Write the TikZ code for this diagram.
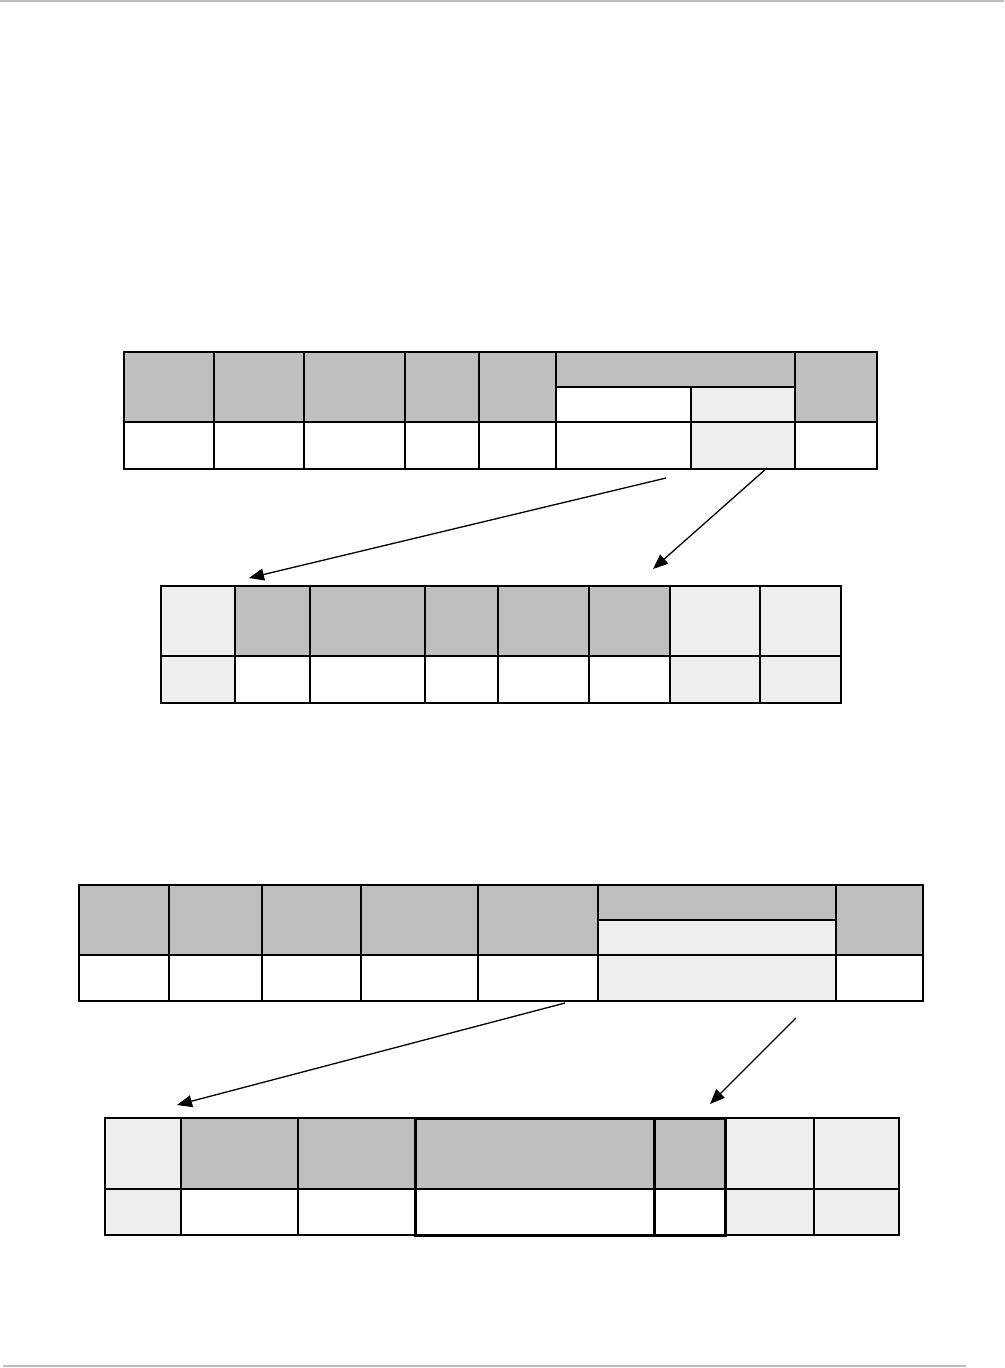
\documentclass[tikz,border=0pt]{standalone}
\usetikzlibrary{arrows.meta}
\definecolor{hdr}{HTML}{BFBFBF}
\definecolor{lite}{HTML}{EEEEEE}
\definecolor{rule}{HTML}{BDBDBD}
\tikzset{
  cell/.style={draw=black, line width=1.2pt, inner sep=0pt, outer sep=0pt, anchor=north west},
  frame/.style={draw=black, line width=2.2pt},
  frameThin/.style={draw=black, line width=1.6pt},
  frameBold/.style={draw=black, line width=3pt},
  link/.style={draw=black, line width=1.3pt, -{Triangle[length=15pt,width=12pt]}},
  pagerule/.style={draw=rule, line width=2pt}
}
\newcommand\cellbox[6]{%
  \node[cell, fill=#6, minimum width={#4-#2}, minimum height={#5-#3}] (#1) at (#2,#3) {};}
\begin{document}
\begin{tikzpicture}[x=1pt,y=-1pt]
\useasboundingbox (0,0) rectangle (1004,1368);
\fill[white] (0,0) rectangle (1004,1368);
% page rules
\coordinate (topL) at (0,1);
\coordinate (topR) at (1004,1);
\draw[pagerule] (topL) -- (topR);
\coordinate (botL) at (3,1366);
\coordinate (botR) at (966,1366);
\draw[pagerule, line width=1.5pt] (botL) -- (botR);

% ---------- Table 1 ----------
\cellbox{aH1}{124}{352}{214}{422}{hdr}
\cellbox{aH2}{214}{352}{304}{422}{hdr}
\cellbox{aH3}{304}{352}{405}{422}{hdr}
\cellbox{aH4}{405}{352}{479}{422}{hdr}
\cellbox{aH5}{479}{352}{556}{422}{hdr}
\cellbox{aHs}{556}{352}{795}{387}{hdr}
\cellbox{aS1}{556}{387}{691}{422}{white}
\cellbox{aS2}{691}{387}{795}{422}{lite}
\cellbox{aH8}{795}{352}{877}{422}{hdr}
\cellbox{aD1}{124}{422}{214}{469}{white}
\cellbox{aD2}{214}{422}{304}{469}{white}
\cellbox{aD3}{304}{422}{405}{469}{white}
\cellbox{aD4}{405}{422}{479}{469}{white}
\cellbox{aD5}{479}{422}{556}{469}{white}
\cellbox{aD6}{556}{422}{691}{469}{white}
\cellbox{aD7}{691}{422}{795}{469}{lite}
\cellbox{aD8}{795}{422}{877}{469}{white}
\draw[frame] (aH1.north west) rectangle (aD8.south east);
\draw[frame] (aH2.north west) -- (aD2.south west);
\draw[frame] (aH3.north west) -- (aD3.south west);
\draw[frame] (aH5.north west) -- (aD5.south west);
\draw[frame] (aHs.north west) -- (aD6.south west);
\draw[frame] (aH8.north west) -- (aD8.south west);

% ---------- Table 2 ----------
\cellbox{bH1}{161}{586}{235}{656}{lite}
\cellbox{bH2}{235}{586}{310}{656}{hdr}
\cellbox{bH3}{310}{586}{425}{656}{hdr}
\cellbox{bH4}{425}{586}{498}{656}{hdr}
\cellbox{bH5}{498}{586}{589}{656}{hdr}
\cellbox{bH6}{589}{586}{670}{656}{hdr}
\cellbox{bH7}{670}{586}{760}{656}{lite}
\cellbox{bH8}{760}{586}{841}{656}{lite}
\cellbox{bD1}{161}{656}{235}{703}{lite}
\cellbox{bD2}{235}{656}{310}{703}{white}
\cellbox{bD3}{310}{656}{425}{703}{white}
\cellbox{bD4}{425}{656}{498}{703}{white}
\cellbox{bD5}{498}{656}{589}{703}{white}
\cellbox{bD6}{589}{656}{670}{703}{white}
\cellbox{bD7}{670}{656}{760}{703}{lite}
\cellbox{bD8}{760}{656}{841}{703}{lite}
\draw[frame] (bH1.north west) rectangle (bD8.south east);
\draw[frame] (bH2.north west) -- (bD2.south west);
\draw[frame] (bH3.north west) -- (bD3.south west);
\draw[frame] (bH6.north west) -- (bD6.south west);
\draw[frame] (bH7.north west) -- (bD7.south west);
\draw[frame] (bH8.north west) -- (bD8.south west);

% ---------- Table 3 ----------
\cellbox{cH1}{79}{885}{169}{955}{hdr}
\cellbox{cH2}{169}{885}{262}{955}{hdr}
\cellbox{cH3}{262}{885}{361}{955}{hdr}
\cellbox{cH4}{361}{885}{478}{955}{hdr}
\cellbox{cH5}{478}{885}{598}{955}{hdr}
\cellbox{cHs}{598}{885}{836}{920}{hdr}
\cellbox{cS1}{598}{920}{836}{955}{lite}
\cellbox{cH7}{836}{885}{923}{955}{hdr}
\cellbox{cD1}{79}{955}{169}{1001}{white}
\cellbox{cD2}{169}{955}{262}{1001}{white}
\cellbox{cD3}{262}{955}{361}{1001}{white}
\cellbox{cD4}{361}{955}{478}{1001}{white}
\cellbox{cD5}{478}{955}{598}{1001}{white}
\cellbox{cD6}{598}{955}{836}{1001}{lite}
\cellbox{cD7}{836}{955}{923}{1001}{white}
\draw[frameThin] (cH1.north west) rectangle (cD7.south east);
\draw[frameThin] (cH1.south west) -- (cH7.south east);
\draw[frameThin] (cH2.north west) -- (cH2.south west);
\draw[frameThin] (cH3.north west) -- (cD3.south west);
\draw[frameThin] (cH4.north west) -- (cD4.south west);
\draw[frameThin] (cH5.north west) -- (cD5.south west);
\draw[frame] (cHs.north west) -- (cD6.south west);

% ---------- Table 4 ----------
\cellbox{dH1}{105}{1118}{181}{1189}{lite}
\cellbox{dH2}{181}{1118}{298}{1189}{hdr}
\cellbox{dH3}{298}{1118}{415}{1189}{hdr}
\cellbox{dH4}{415}{1118}{654}{1189}{hdr}
\cellbox{dH5}{654}{1118}{725}{1189}{hdr}
\cellbox{dH6}{725}{1118}{814}{1189}{lite}
\cellbox{dH7}{814}{1118}{899}{1189}{lite}
\cellbox{dD1}{105}{1189}{181}{1235}{lite}
\cellbox{dD2}{181}{1189}{298}{1235}{white}
\cellbox{dD3}{298}{1189}{415}{1235}{white}
\cellbox{dD4}{415}{1189}{654}{1235}{white}
\cellbox{dD5}{654}{1189}{725}{1235}{white}
\cellbox{dD6}{725}{1189}{814}{1235}{lite}
\cellbox{dD7}{814}{1189}{899}{1235}{lite}
\draw[frameThin] (dH1.north west) rectangle (dD7.south east);
\draw[frameThin] (dH1.south west) -- (dH7.south east);
\draw[frameThin] (dH2.north west) -- (dD2.south west);
\draw[frameThin] (dH3.north west) -- (dD3.south west);
\draw[frameBold] (dH4.north west) rectangle (dD5.south east);
\draw[frameBold] (dH5.north west) -- (dD5.south west);

% ---------- connectors ----------
\coordinate (a1s) at (666,478);
\coordinate (a1e) at (249,578);
\coordinate (a2s) at (767,468);
\coordinate (a2e) at (653,569);
\coordinate (a3s) at (565,1003);
\coordinate (a3e) at (177,1105);
\coordinate (a4s) at (796,1018);
\coordinate (a4e) at (710,1104);
\draw[link] (a1s) -- (a1e);
\draw[link] (a2s) -- (a2e);
\draw[link] (a3s) -- (a3e);
\draw[link] (a4s) -- (a4e);
\end{tikzpicture}
\end{document}
